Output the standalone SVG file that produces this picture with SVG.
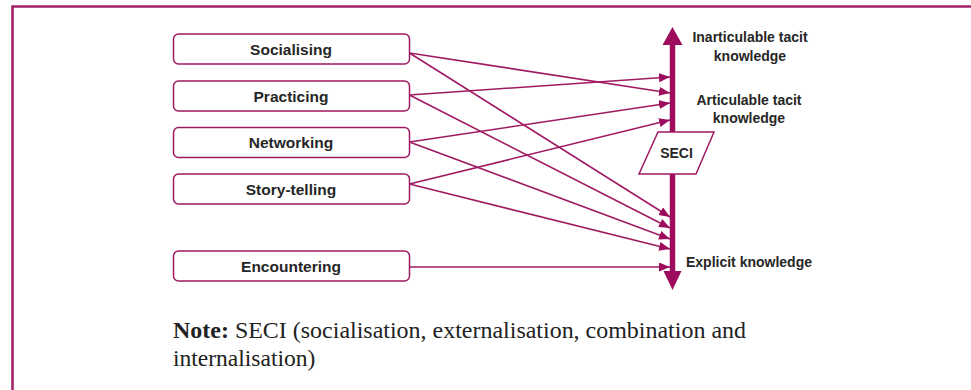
<svg xmlns="http://www.w3.org/2000/svg" width="971" height="390" viewBox="0 0 971 390">
<defs>
<style>
.box{fill:#fff;stroke:#a01a63;stroke-width:1.5}
.lbl{font-family:"Liberation Sans",Arial,sans-serif;font-weight:bold;font-size:15.5px;fill:#262626;text-anchor:middle}
.ax{font-family:"Liberation Sans",Arial,sans-serif;font-weight:bold;font-size:14px;fill:#262626;text-anchor:middle}
.con{stroke:#a01a63;stroke-width:1.6;fill:none;marker-end:url(#ah)}
.note{font-family:"Liberation Serif","Times New Roman",serif;font-size:23.5px;fill:#222}
</style>
<marker id="ah" markerUnits="userSpaceOnUse" markerWidth="12" markerHeight="10" refX="11" refY="4.5" orient="auto">
<path d="M0,0 L11,4.5 L0,9 z" fill="#9c0b5c"/>
</marker>
</defs>
<rect width="971" height="390" fill="#fff"/>
<path d="M971,6.5 H12.5 V390" fill="none" stroke="#a3236b" stroke-width="2.6"/>

<g id="axis">
<line x1="672.5" y1="42" x2="672.5" y2="274" stroke="#9c0b5c" stroke-width="5.5"/>
<path d="M672.5,27 L682.5,45 L662.5,45 z" fill="#9c0b5c"/>
<path d="M672.5,290 L681.5,271 L663.5,271 z" fill="#9c0b5c"/>
<text class="ax" x="750" y="42">Inarticulable tacit</text>
<text class="ax" x="750" y="61">knowledge</text>
<text class="ax" x="749" y="105">Articulable tacit</text>
<text class="ax" x="749" y="123">knowledge</text>
<text class="ax" x="749" y="267">Explicit knowledge</text>
</g>

<g id="seci">
<path d="M658,132 L714,132 L696,174 L639,174 z" fill="#fff" stroke="#a01a63" stroke-width="1.5"/>
<text class="ax" x="676.5" y="158">SECI</text>
</g>

<g id="socialising">
<rect class="box" x="173.5" y="34" width="236" height="30" rx="5"/>
<text class="lbl" x="291" y="54.5">Socialising</text>
</g>
<g id="practicing">
<rect class="box" x="173.5" y="81" width="236" height="30" rx="5"/>
<text class="lbl" x="291" y="101.5">Practicing</text>
</g>
<g id="networking">
<rect class="box" x="173.5" y="127.5" width="236" height="30" rx="5"/>
<text class="lbl" x="291" y="148">Networking</text>
</g>
<g id="storytelling">
<rect class="box" x="173.5" y="174" width="236" height="30" rx="5"/>
<text class="lbl" x="291" y="194.5">Story-telling</text>
</g>
<g id="encountering">
<rect class="box" x="173.5" y="251" width="236" height="30" rx="5"/>
<text class="lbl" x="291" y="271.5">Encountering</text>
</g>

<g id="connectors">
<line class="con" x1="409.5" y1="53" x2="670" y2="93"/>
<line class="con" x1="409.5" y1="53" x2="670" y2="217"/>
<line class="con" x1="409.5" y1="95" x2="670" y2="77"/>
<line class="con" x1="409.5" y1="95" x2="670" y2="228"/>
<line class="con" x1="409.5" y1="142" x2="670" y2="103"/>
<line class="con" x1="409.5" y1="142" x2="670" y2="239"/>
<line class="con" x1="409.5" y1="184" x2="670" y2="120"/>
<line class="con" x1="409.5" y1="184" x2="670" y2="249"/>
<line class="con" x1="409.5" y1="267" x2="670" y2="267"/>
</g>

<g id="note">
<text class="note" x="173" y="338" textLength="573" lengthAdjust="spacingAndGlyphs"><tspan font-weight="bold">Note:</tspan> SECI (socialisation, externalisation, combination and</text>
<text class="note" x="173" y="366">internalisation)</text>
</g>
</svg>
